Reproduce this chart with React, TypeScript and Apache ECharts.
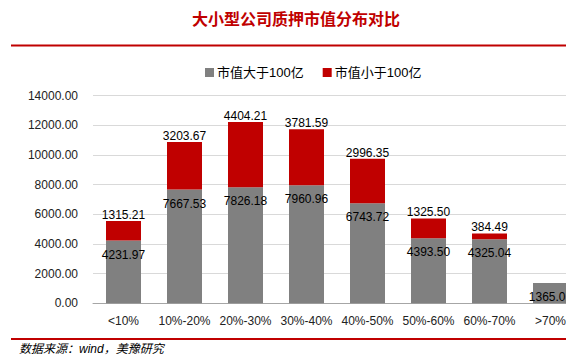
import React, { useEffect, useRef } from "react";
import * as echarts from "echarts";

const categories = ["<10%", "10%-20%", "20%-30%", "30%-40%", "40%-50%", "50%-60%", "60%-70%", ">70%"];
const largeCap = [4231.97, 7667.53, 7826.18, 7960.96, 6743.72, 4393.5, 4325.04, 1365.01];
const smallCap = [1315.21, 3203.67, 4404.21, 3781.59, 2996.35, 1325.5, 384.49, null];
const seriesNames = ["市值大于100亿", "市值小于100亿"];
const titleText = "大小型公司质押市值分布对比";
const sourceText = "数据来源：wind，美豫研究";

const FONT = "'Liberation Sans', Arial, 'Noto Sans CJK SC', sans-serif";

export default function App() {
  const ref = useRef<HTMLDivElement>(null);
  useEffect(() => {
    if (!ref.current) return;
    const chart = echarts.init(ref.current, undefined, { renderer: "svg" });
    chart.setOption({
      animation: false,
      backgroundColor: "#ffffff",
      textStyle: { fontFamily: FONT },
      title: {
        text: titleText,
        left: 291,
        textAlign: "center",
        top: 5,
        textStyle: {
          fontFamily: "'Noto Sans CJK SC', sans-serif",
          fontSize: 16,
          fontWeight: "bold",
          color: "#c00000",
        },
      },
      legend: {
        left: 200,
        top: 61,
        itemWidth: 9,
        itemHeight: 9,
        itemGap: 19,
        icon: "rect",
        data: seriesNames,
        textStyle: { fontFamily: FONT, fontSize: 13, color: "#000", padding: [0, 0, 0, -2] },
      },
      grid: { left: 93, right: 1, top: 95.7, bottom: 57.7, containLabel: false },
      xAxis: {
        type: "category",
        data: categories,
        axisLine: { lineStyle: { color: "#a6a6a6", width: 1 } },
        axisTick: { show: false },
        axisLabel: { interval: 0, fontFamily: FONT, fontSize: 12, color: "#222", margin: 12 },
      },
      yAxis: {
        type: "value",
        min: 0,
        max: 14000,
        interval: 2000,
        axisLine: { show: false },
        axisTick: { show: false },
        splitLine: { lineStyle: { color: "#d9d9d9", width: 1 } },
        axisLabel: {
          fontFamily: FONT,
          fontSize: 12,
          color: "#222",
          margin: 15,
          formatter: (v: number) => v.toFixed(2),
        },
      },
      series: [
        {
          name: seriesNames[0],
          type: "bar",
          stack: "total",
          barWidth: 35,
          data: largeCap,
          itemStyle: { color: "#808080" },
          label: {
            show: true,
            position: "insideTop",
            distance: 8,
            fontFamily: FONT,
            fontSize: 12,
            color: "#000",
            formatter: (p: any) => Number(p.value).toFixed(2),
          },
        },
        {
          name: seriesNames[1],
          type: "bar",
          stack: "total",
          barWidth: 35,
          data: smallCap,
          itemStyle: { color: "#c00000" },
          label: {
            show: true,
            position: "top",
            distance: 0,
            fontFamily: FONT,
            fontSize: 12,
            color: "#000",
            formatter: (p: any) => (p.value == null ? "" : Number(p.value).toFixed(2)),
          },
        },
      ],
      graphic: [
        {
          type: "line",
          shape: { x1: 11, y1: 45.5, x2: 582, y2: 45.5 },
          style: { stroke: "#c00000", lineWidth: 2 },
        },
        {
          type: "line",
          shape: { x1: 11, y1: 339, x2: 582, y2: 339 },
          style: { stroke: "#c00000", lineWidth: 2 },
        },
        {
          type: "text",
          left: 19,
          top: 343,
          style: {
            text: sourceText,
            fontFamily: FONT,
            fontSize: 12,
            fontStyle: "italic",
            fill: "#000",
          },
        },
      ],
    });
    return () => chart.dispose();
  }, []);
  return (
    <div style={{ position: "absolute", left: 0, top: 0, width: 566, height: 361, overflow: "hidden", background: "#fff" }}>
      <div ref={ref} style={{ width: 582, height: 361 }} />
    </div>
  );
}
